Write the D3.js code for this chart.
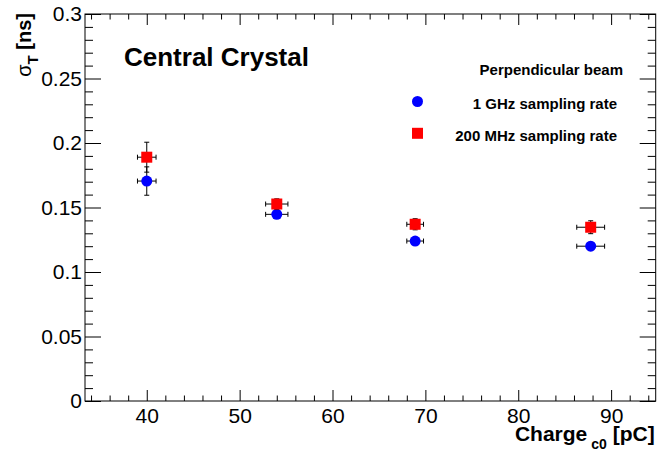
<!DOCTYPE html>
<html>
<head>
<meta charset="utf-8">
<script src="https://cdn.jsdelivr.net/npm/d3@7"></script>
<style>
  body { margin: 0; background: #fff; }
  svg text { font-family: "Liberation Sans", Arial, Helvetica, sans-serif; }
</style>
</head>
<body>
<div id="chart"></div>
<script>
// data
let charge = [40, 54, 68.9, 87.8];
let chargeErr = [1.0, 1.2, 0.9, 1.5];
let sigma1GHz = [0.1705, 0.1447, 0.124, 0.120];
let sigma1GHzErr = [0.011, 0.003, 0.002, 0.003];
let sigma200MHz = [0.189, 0.1527, 0.137, 0.1347];
let sigma200MHzErr = [0.0116, 0.004, 0.0043, 0.005];

let xTicks = [40, 50, 60, 70, 80, 90];
let yTicks = [0, 0.05, 0.1, 0.15, 0.2, 0.25, 0.3];
let yTickLabels = ["0", "0.05", "0.1", "0.15", "0.2", "0.25", "0.3"];

let width = 658, height = 452;
let margin = { top: 14, right: 2.3, bottom: 51, left: 85 };

let x = d3.scaleLinear().domain([33.35, 94.8]).range([margin.left, width - margin.right]);
let y = d3.scaleLinear().domain([0, 0.3]).range([height - margin.bottom, margin.top]);

let svg = d3.select('#chart').append('svg')
    .attr('width', width).attr('height', height);

let xMinor = d3.range(34, 95, 2).filter(v => xTicks.indexOf(v) < 0);
let yMinor = d3.range(0, 31).map(v => v / 100).filter(v => Math.round(v * 100) % 5 !== 0);

function styleAxis(g){
    g.select('.domain').remove();
    g.selectAll('line').attr('stroke', '#000').attr('stroke-width', 1);
    g.selectAll('text').attr('fill', '#000').attr('font-size', 21);
}

// bottom axis
svg.append('g')
    .attr('transform', "translate(0," + y(0) + ")")
    .call(d3.axisBottom(x).tickValues(xTicks).tickSize(-11).tickPadding(7).tickFormat(d3.format('d')))
    .call(styleAxis);
svg.append('g')
    .attr('transform', "translate(0," + y(0) + ")")
    .call(d3.axisBottom(x).tickValues(xMinor).tickSize(-5.5).tickFormat(''))
    .call(styleAxis);
// top axis
svg.append('g')
    .attr('transform', "translate(0," + y(0.3) + ")")
    .call(d3.axisTop(x).tickValues(xTicks).tickSize(-11).tickFormat(''))
    .call(styleAxis);
svg.append('g')
    .attr('transform', "translate(0," + y(0.3) + ")")
    .call(d3.axisTop(x).tickValues(xMinor).tickSize(-5.5).tickFormat(''))
    .call(styleAxis);
// left axis
svg.append('g')
    .attr('transform', "translate(" + x.range()[0] + ",0)")
    .call(d3.axisLeft(y).tickValues(yTicks).tickSize(-16).tickPadding(3)
        .tickFormat((d, i) => yTickLabels[i]))
    .call(styleAxis);
svg.append('g')
    .attr('transform', "translate(" + x.range()[0] + ",0)")
    .call(d3.axisLeft(y).tickValues(yMinor).tickSize(-8).tickFormat(''))
    .call(styleAxis);
// right axis
svg.append('g')
    .attr('transform', "translate(" + x.range()[1] + ",0)")
    .call(d3.axisRight(y).tickValues(yTicks).tickSize(-16).tickFormat(''))
    .call(styleAxis);
svg.append('g')
    .attr('transform', "translate(" + x.range()[1] + ",0)")
    .call(d3.axisRight(y).tickValues(yMinor).tickSize(-8).tickFormat(''))
    .call(styleAxis);

// frame
svg.append('rect')
    .attr('x', x.range()[0]).attr('y', y.range()[1])
    .attr('width', x.range()[1] - x.range()[0])
    .attr('height', y.range()[0] - y.range()[1])
    .attr('fill', 'none').attr('stroke', '#000').attr('stroke-width', 1);

// axis titles
let xt = svg.append('text')
    .attr('x', x.range()[1] - 1).attr('y', 441)
    .attr('text-anchor', 'end')
    .attr('font-size', 21).attr('font-weight', 'bold');
xt.append('tspan').text('Charge');
xt.append('tspan').attr('dy', 8).attr('dx', 4).attr('font-size', 14).text('c0');
xt.append('tspan').attr('dy', -8).text(' [pC]');

let yt = svg.append('text')
    .attr('transform', "translate(31," + (y.range()[1] - 1) + ") rotate(-90)")
    .attr('text-anchor', 'end')
    .attr('font-size', 20).attr('font-weight', 'bold');
yt.append('tspan').attr('font-weight', 'normal').text('σ');
yt.append('tspan').attr('dy', 7).attr('font-size', 15).text('T');
yt.append('tspan').attr('dy', -7).text(' [ns]');

// label
svg.append('text')
    .attr('x', 124).attr('y', 66)
    .attr('font-size', 26).attr('font-weight', 'bold')
    .text('Central Crystal');

// error bars + markers
let series = [
    { name: '1 GHz sampling rate', vals: sigma1GHz, errs: sigma1GHzErr, color: '#0000ff', shape: 'circle' },
    { name: '200 MHz sampling rate', vals: sigma200MHz, errs: sigma200MHzErr, color: '#ff0000', shape: 'square' }
];
let cap = 2.5;
let r = 5.5;

series.forEach(function(s){
    let pts = charge.map((c, i) => ({ x: c, xe: chargeErr[i], y: s.vals[i], ye: s.errs[i] }));
    let g = svg.append('g');
    let bars = g.selectAll('.err').data(pts).enter().append('g')
        .attr('stroke', '#000').attr('stroke-width', 1);
    bars.append('line')
        .attr('x1', d => x(d.x - d.xe)).attr('x2', d => x(d.x + d.xe))
        .attr('y1', d => y(d.y)).attr('y2', d => y(d.y));
    bars.append('line')
        .attr('x1', d => x(d.x - d.xe)).attr('x2', d => x(d.x - d.xe))
        .attr('y1', d => y(d.y) - cap).attr('y2', d => y(d.y) + cap);
    bars.append('line')
        .attr('x1', d => x(d.x + d.xe)).attr('x2', d => x(d.x + d.xe))
        .attr('y1', d => y(d.y) - cap).attr('y2', d => y(d.y) + cap);
    bars.append('line')
        .attr('x1', d => x(d.x)).attr('x2', d => x(d.x))
        .attr('y1', d => y(d.y - d.ye)).attr('y2', d => y(d.y + d.ye));
    bars.append('line')
        .attr('x1', d => x(d.x) - cap).attr('x2', d => x(d.x) + cap)
        .attr('y1', d => y(d.y + d.ye)).attr('y2', d => y(d.y + d.ye));
    bars.append('line')
        .attr('x1', d => x(d.x) - cap).attr('x2', d => x(d.x) + cap)
        .attr('y1', d => y(d.y - d.ye)).attr('y2', d => y(d.y - d.ye));

    if (s.shape === 'circle') {
        g.selectAll('.mk').data(pts).enter().append('circle')
            .attr('cx', d => x(d.x)).attr('cy', d => y(d.y)).attr('r', r)
            .attr('fill', s.color);
    } else {
        g.selectAll('.mk').data(pts).enter().append('rect')
            .attr('x', d => x(d.x) - r).attr('y', d => y(d.y) - r)
            .attr('width', 2 * r).attr('height', 2 * r)
            .attr('fill', s.color);
    }
});

// legend
let lg = svg.append('g').attr('font-size', 15).attr('font-weight', 'bold');
lg.append('text').attr('x', 623).attr('y', 75).attr('text-anchor', 'end').text('Perpendicular beam');
lg.append('circle').attr('cx', 417.5).attr('cy', 101.5).attr('r', r).attr('fill', series[0].color);
lg.append('text').attr('x', 617).attr('y', 108.5).attr('text-anchor', 'end').text(series[0].name);
lg.append('rect').attr('x', 417.5 - r).attr('y', 133.3 - r).attr('width', 2 * r).attr('height', 2 * r)
    .attr('fill', series[1].color);
lg.append('text').attr('x', 617).attr('y', 141).attr('text-anchor', 'end').text(series[1].name);
</script>
</body>
</html>
